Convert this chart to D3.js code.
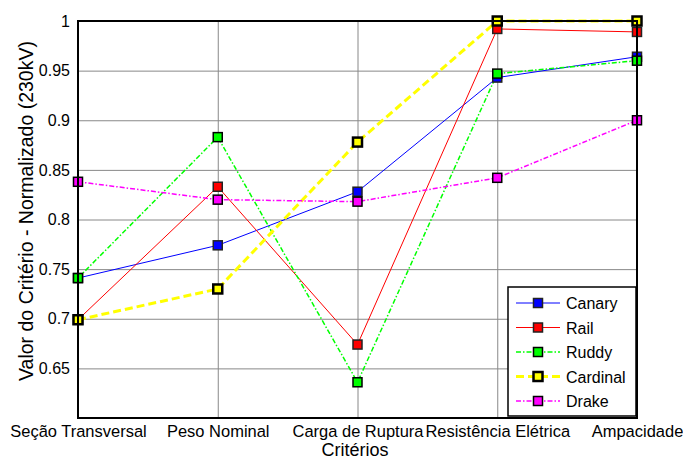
<!DOCTYPE html>
<html>
<head>
<meta charset="utf-8">
<script src="https://cdn.jsdelivr.net/npm/d3@7"></script>
<style>
  body { margin: 0; background: #fff; }
  svg { font-family: "Liberation Sans", Arial, sans-serif; }
</style>
</head>
<body>
<svg id="chart" width="683" height="461"></svg>
<script>
// Data
const criterios = ["Seção Transversal", "Peso Nominal", "Carga de Ruptura", "Resistência Elétrica", "Ampacidade"];
const canary   = [0.741, 0.774, 0.828, 0.943, 0.964];
const rail     = [0.699, 0.833, 0.674, 0.992, 0.989];
const ruddy    = [0.741, 0.883, 0.636, 0.947, 0.960];
const cardinal = [0.699, 0.730, 0.878, 1.000, 1.000];
const drake    = [0.838, 0.820, 0.818, 0.842, 0.900];
const yTicks = [0.65, 0.7, 0.75, 0.8, 0.85, 0.9, 0.95, 1];

const series = [
  { name: "Canary",   values: canary,   color: "#0000ff", width: 1,   dash: null,         edge: "#222" },
  { name: "Rail",     values: rail,     color: "#ff0000", width: 1,   dash: null,         edge: "#222" },
  { name: "Ruddy",    values: ruddy,    color: "#00ff00", width: 1.5, dash: "5,2,1.5,2",  edge: "#000" },
  { name: "Cardinal", values: cardinal, color: "#ffff00", width: 3,   dash: "8,4",        edge: "#000" },
  { name: "Drake",    values: drake,    color: "#ff00ff", width: 1.5, dash: "5,2,1.5,2",  edge: "#000" }
];

// Layout
const mLeft = 78, mRight = 637, mTop = 21, mBottom = 418;
const width = mRight - mLeft, height = mBottom - mTop;

const svg = d3.select("#chart");
const g = svg.append("g").attr("transform", "translate(" + mLeft + "," + mTop + ")");

const x = d3.scalePoint().domain(criterios).range([0, width]).padding(0);
const y = d3.scaleLinear().domain([0.6, 1]).range([height, 0]);

// Gridlines
g.append("g")
  .attr("class", "grid")
  .call(d3.axisLeft(y).tickValues(yTicks).tickSize(-width).tickFormat(""))
  .call(s => s.select(".domain").remove())
  .call(s => s.selectAll("line").attr("stroke", "#888").attr("stroke-width", 1));

g.append("g")
  .attr("class", "grid")
  .attr("transform", "translate(0," + height + ")")
  .call(d3.axisBottom(x).tickSize(-height).tickFormat(""))
  .call(s => s.select(".domain").remove())
  .call(s => s.selectAll("line").attr("stroke", "#888").attr("stroke-width", 1));

// Lines and markers
const line = d3.line()
  .x((d, i) => x(criterios[i]))
  .y(d => y(d));

series.forEach(s => {
  g.append("path")
    .datum(s.values)
    .attr("fill", "none")
    .attr("stroke", s.color)
    .attr("stroke-width", s.width)
    .attr("stroke-dasharray", s.dash)
    .attr("d", line);
});

series.forEach(s => {
  g.selectAll(null)
    .data(s.values)
    .enter()
    .append("rect")
      .attr("x", (d, i) => x(criterios[i]) - 4.5)
      .attr("y", d => y(d) - 4.5)
      .attr("width", 9)
      .attr("height", 9)
      .attr("fill", s.color)
      .attr("stroke", s.edge)
      .attr("stroke-width", s.name === "Cardinal" ? 2.5 : 1.5);
});

// Axes box
g.append("rect")
  .attr("width", width).attr("height", height)
  .attr("fill", "none").attr("stroke", "#000").attr("stroke-width", 2);

// Tick labels
const yAxis = g.append("g")
  .call(d3.axisLeft(y).tickValues(yTicks).tickSize(0).tickPadding(8).tickFormat(d3.format("")));
yAxis.select(".domain").remove();
yAxis.selectAll("text").attr("font-size", 16).attr("fill", "#000")
  .attr("font-family", "'Liberation Sans', Arial, sans-serif");

const xAxis = g.append("g")
  .attr("transform", "translate(0," + height + ")")
  .call(d3.axisBottom(x).tickSize(0).tickPadding(7));
xAxis.select(".domain").remove();
xAxis.selectAll("text").attr("font-size", 17).attr("fill", "#000")
  .attr("font-family", "'Liberation Sans', Arial, sans-serif")
  .attr("transform", "scale(0.97,1)");

// Axis titles
svg.append("text")
  .attr("text-anchor", "middle")
  .attr("transform", "translate(33,211)rotate(-90)")
  .attr("font-size", 19.5)
  .text("Valor do Critério - Normalizado (230kV)");

svg.append("text")
  .attr("text-anchor", "middle")
  .attr("x", 355)
  .attr("y", 456)
  .attr("font-size", 18)
  .text("Critérios");

// Legend
const legend = svg.append("g").attr("transform", "translate(508,287)");
legend.append("rect")
  .attr("width", 128).attr("height", 129)
  .attr("fill", "#fff").attr("stroke", "#000").attr("stroke-width", 1.5);

series.forEach((s, i) => {
  const ly = 16 + i * 24.5;
  legend.append("line")
    .attr("x1", 8).attr("x2", 52).attr("y1", ly).attr("y2", ly)
    .attr("stroke", s.color).attr("stroke-width", s.width)
    .attr("stroke-dasharray", s.dash);
  legend.append("rect")
    .attr("x", 25.5).attr("y", ly - 4.5).attr("width", 9).attr("height", 9)
    .attr("fill", s.color).attr("stroke", s.edge)
    .attr("stroke-width", s.name === "Cardinal" ? 2.5 : 1.5);
  legend.append("text")
    .attr("x", 58).attr("y", ly + 6)
    .attr("font-size", 16)
    .text(s.name);
});
</script>
</body>
</html>
